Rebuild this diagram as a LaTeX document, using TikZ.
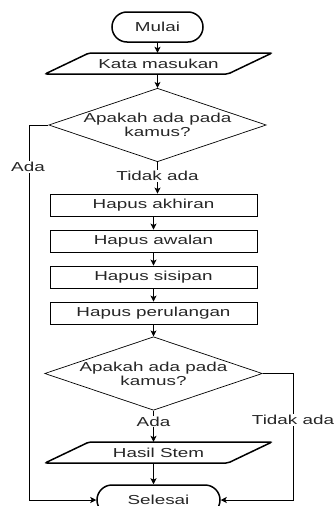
\documentclass[tikz,border=0pt]{standalone}
\usepackage{fontspec}
\setmainfont[FakeStretch=1.45]{Liberation Sans}
\usetikzlibrary{arrows.meta,shapes.geometric}
\begin{document}
\begin{tikzpicture}[x=1pt,y=-1pt,
  font=\fontsize{13pt}{15pt}\selectfont,
  txt/.style={text=black!85},
  term/.style={draw,line width=1.5pt,rounded corners=15pt,minimum width=#1,minimum height=30pt,inner sep=0pt,txt},
  procbox/.style={draw,line width=0.9pt,minimum width=207pt,minimum height=22pt,inner sep=0pt,txt},
  decide/.style={draw,line width=0.7pt,shape=diamond,minimum width=207pt,minimum height=70pt,aspect=2.96,inner sep=0pt,align=center,txt},
  iotext/.style={minimum width=150pt,minimum height=21pt,inner sep=0pt,txt},
  iobox/.style={draw,line width=1.5pt,rounded corners=2pt},
  arr/.style={draw,line width=0.8pt,-{Stealth[length=6pt,width=6pt,inset=1.5pt]}},
  lbl/.style={fill=white,inner sep=1pt,txt}]
\useasboundingbox (0,0) rectangle (333,506);

% nodes
\node[term=91pt] (mulai) at (157.5,27) {Mulai};
\node[iotext] (kata) at (158.5,63.5) {Kata masukan};
\node[decide,minimum width=209pt] (d1) at (157.5,125) {Apakah ada pada\\[-1pt]kamus?};
\node[procbox] (h1) at (153.5,205) {Hapus akhiran};
\node[procbox] (h2) at (153.5,241) {Hapus awalan};
\node[procbox] (h3) at (153.5,277) {Hapus sisipan};
\node[procbox] (h4) at (153.5,313) {Hapus perulangan};
\node[decide] (d2) at (153.5,373.5) {Apakah ada pada\\[-1pt]kamus?};
\node[iotext] (hasil) at (158.5,452.5) {Hasil Stem};
\node[term=123pt] (selesai) at (158.5,500) {Selesai};

% parallelogram outlines
\draw[iobox] (45,74) -- (89,53) -- (272,53) -- (228,74) -- cycle;
\draw[iobox] (45,463) -- (89,442) -- (272,442) -- (228,463) -- cycle;

% connectors
\draw[arr] (mulai.south) -- (mulai.south |- kata.north);
\draw[arr] (kata.south -| d1.north) -- (d1.north);
\draw[arr] (d1.south) -- node[lbl,pos=0.45] {Tidak ada} (d1.south |- h1.north);
\draw[arr] (h1.south) -- (h2.north);
\draw[arr] (h2.south) -- (h3.north);
\draw[arr] (h3.south) -- (h4.north);
\draw[arr] (h4.south) -- (d2.north);
\draw[arr] (d2.south) -- node[lbl,pos=0.35] {Ada} (d2.south |- hasil.north);
\draw[arr] (hasil.south -| d2.south) -- (d2.south |- selesai.north);

\coordinate (lc) at (29,125);
\coordinate (rc) at (293,373.5);
\draw[arr] (d1.west) -- (lc) |- (selesai.west);
\node[lbl] (ada1) at (28,167) {Ada};
\draw[arr] (d2.east) -- (rc) |- (selesai.east);
\node[lbl] (tidak2) at (293,420) {Tidak ada};
\end{tikzpicture}
\end{document}
